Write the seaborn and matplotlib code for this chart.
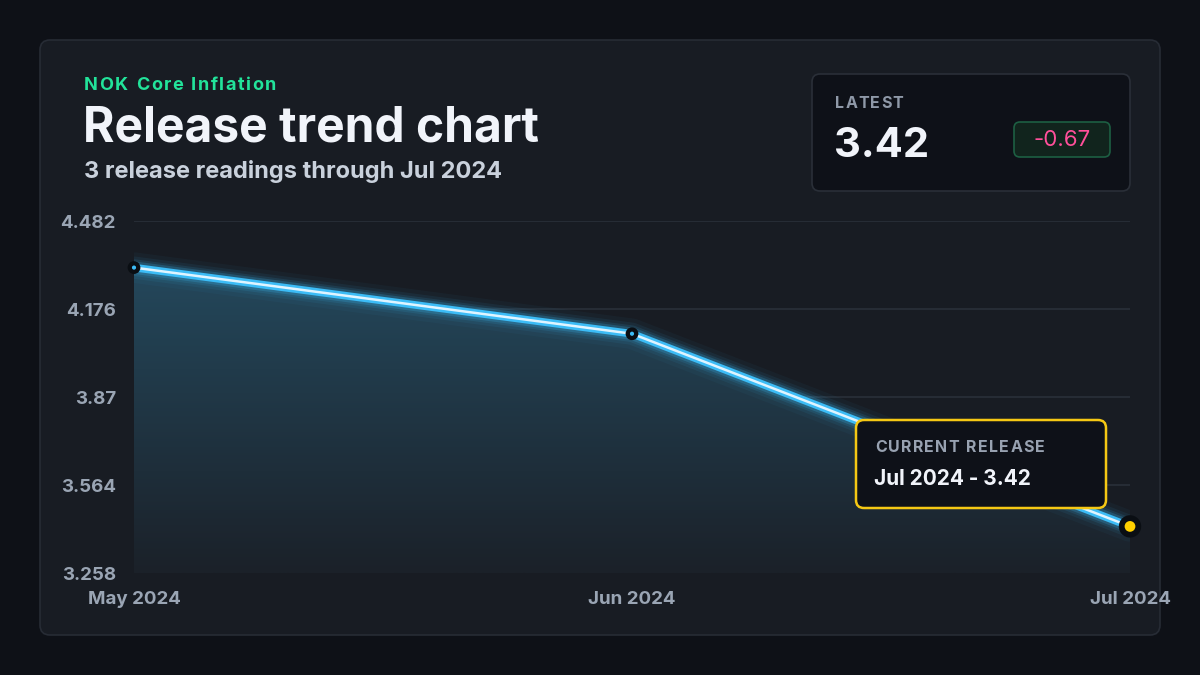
import numpy as np
import pandas as pd
import matplotlib
matplotlib.use("Agg")
import matplotlib.pyplot as plt
import seaborn as sns
from matplotlib.patches import FancyBboxPatch
from matplotlib.colors import to_rgb

# data
months = ["May 2024", "Jun 2024", "Jul 2024"]
values = [4.32, 4.09, 3.42]
y_ticks = [3.258, 3.564, 3.87, 4.176, 4.482]
y_tick_labels = ["3.258", "3.564", "3.87", "4.176", "4.482"]

latest = values[-1]
change = values[-1] - values[-2]

df = pd.DataFrame({"month": months, "pos": range(len(months)), "value": values})

sns.set_theme(style="dark")
plt.rcParams["font.family"] = ["Inter", "DejaVu Sans"]

BG = "#0e1117"
CARD = "#181c23"
CARD_EDGE = "#272c35"
GRID = "#2a3039"
TICK = "#9aa5b4"
LINE = "#3cbcf6"

fig = plt.figure(figsize=(12, 6.75), dpi=100, facecolor=BG)

# background layer in pixel coordinates
bg = fig.add_axes([0, 0, 1, 1], zorder=0)
bg.set_xlim(0, 1200)
bg.set_ylim(675, 0)
bg.axis("off")
bg.add_patch(FancyBboxPatch((40, 40), 1120, 595, boxstyle="round,pad=0,rounding_size=10",
                            fc=CARD, ec=CARD_EDGE, lw=1.2))

# overlay layer for tooltip
ov = fig.add_axes([0, 0, 1, 1], zorder=3)
ov.set_xlim(0, 1200)
ov.set_ylim(675, 0)
ov.axis("off")
ov.patch.set_alpha(0)

renderer = fig.canvas.get_renderer()


def spaced(ax, x, y, s, spacing, size, **kw):
    for ch in s:
        if ch == " ":
            x += size / 72 * 100 * 0.28 + spacing
            continue
        t = ax.text(x, y, ch, fontsize=size, va="baseline", ha="left", **kw)
        x += t.get_window_extent(renderer).width + spacing


spaced(bg, 84, 90, "NOK Core Inflation", 1.5, 13, color="#22e39a", fontweight="bold")
bg.text(83, 142, "Release trend chart", fontsize=34.5, color="#f1f4fa",
        fontweight="bold", va="baseline")
bg.text(84, 178, "3 release readings through Jul 2024", fontsize=17, color="#c9d1dc",
        fontweight="bold", va="baseline")

# latest box
bg.add_patch(FancyBboxPatch((812, 74), 318, 117, boxstyle="round,pad=0,rounding_size=8",
                            fc="#0e1118", ec="#2a2f38", lw=1.2))
spaced(bg, 835, 108, "LATEST", 1.2, 11.5, color="#8f99a8", fontweight="bold")
bg.text(834, 157, f"{latest:.2f}", fontsize=30, color="#f1f4fa",
        fontweight="bold", va="baseline")
bg.add_patch(FancyBboxPatch((1014, 122), 96, 35, boxstyle="round,pad=0,rounding_size=6",
                            fc="#11241d", ec="#1d5f43", lw=1.2))
bg.text(1062, 140, f"{change:.2f}", fontsize=16, color="#ff4f9a",
        ha="center", va="center")

# chart axes
ax = fig.add_axes([134 / 1200, 1 - 573 / 675, 996 / 1200, 352 / 675], zorder=1)
ax.set_facecolor((0, 0, 0, 0))
for s in ax.spines.values():
    s.set_visible(False)
ax.grid(False)
for yt in y_ticks:
    ax.axhline(yt, color=GRID, lw=1.2, zorder=0)

# gradient area under the line
top_c = np.array(to_rgb("#24485c"))
bot_c = np.array(to_rgb("#1b2129"))
grad = np.linspace(0, 1, 256)[:, None]
img = top_c[None, None, :] * (1 - grad[..., None]) + bot_c[None, None, :] * grad[..., None]
img = np.repeat(img, 2, axis=1)
poly = ax.fill_between(df["pos"], df["value"], y_ticks[0], color="none", lw=0)
im = ax.imshow(img, extent=[0, len(months) - 1, y_ticks[0], max(values)],
               aspect="auto", origin="upper", zorder=1)
im.set_clip_path(poly.get_paths()[0], transform=ax.transData)

# glowing line
for lw, a in [(22, 0.04), (16, 0.07), (12, 0.11), (9, 0.2)]:
    sns.lineplot(data=df, x="pos", y="value", ax=ax, color=LINE, lw=lw, alpha=a,
                 zorder=2, solid_capstyle="round")
sns.lineplot(data=df, x="pos", y="value", ax=ax, color=LINE, lw=5.5, zorder=3,
             solid_capstyle="round")
sns.lineplot(data=df, x="pos", y="value", ax=ax, color="#dff4ff", lw=1.8, zorder=4,
             solid_capstyle="round")

prev = df.iloc[:-1]
last = df.iloc[-1:]
sns.scatterplot(data=prev, x="pos", y="value", ax=ax, s=85, color="#0a0e13",
                edgecolor="none", zorder=5, clip_on=False)
sns.scatterplot(data=prev, x="pos", y="value", ax=ax, s=9, color=LINE,
                edgecolor="none", zorder=6, clip_on=False)
sns.scatterplot(data=last, x="pos", y="value", ax=ax, s=260, color="#0a0e13",
                edgecolor="none", zorder=5, clip_on=False)
sns.scatterplot(data=last, x="pos", y="value", ax=ax, s=60, color="#ffd000",
                edgecolor="none", zorder=6, clip_on=False)

ax.set_xlim(0, len(months) - 1)
ax.set_ylim(y_ticks[0], y_ticks[-1])
ax.set_yticks(y_ticks, y_tick_labels)
ax.set_xticks(df["pos"], months)
ax.tick_params(axis="y", length=0, pad=13, labelsize=13.5, labelcolor=TICK)
ax.tick_params(axis="x", length=0, pad=13, labelsize=13.5, labelcolor=TICK)
for lab in ax.get_xticklabels() + ax.get_yticklabels():
    lab.set_fontweight("bold")
ax.set_xlabel("")
ax.set_ylabel("")

# tooltip
ov.add_patch(FancyBboxPatch((856, 420), 250, 88, boxstyle="round,pad=0,rounding_size=8",
                            fc="#0e1118", ec="#f5c814", lw=1.8))
spaced(ov, 875, 452, "CURRENT RELEASE", 1.3, 11.5, color="#98a2b1", fontweight="bold")
ov.text(874, 485, f"{months[-1]} - {latest:.2f}", fontsize=15, color="#f1f4fa",
        fontweight="bold", va="baseline")

fig.savefig("out.png", dpi=100, facecolor=BG)
